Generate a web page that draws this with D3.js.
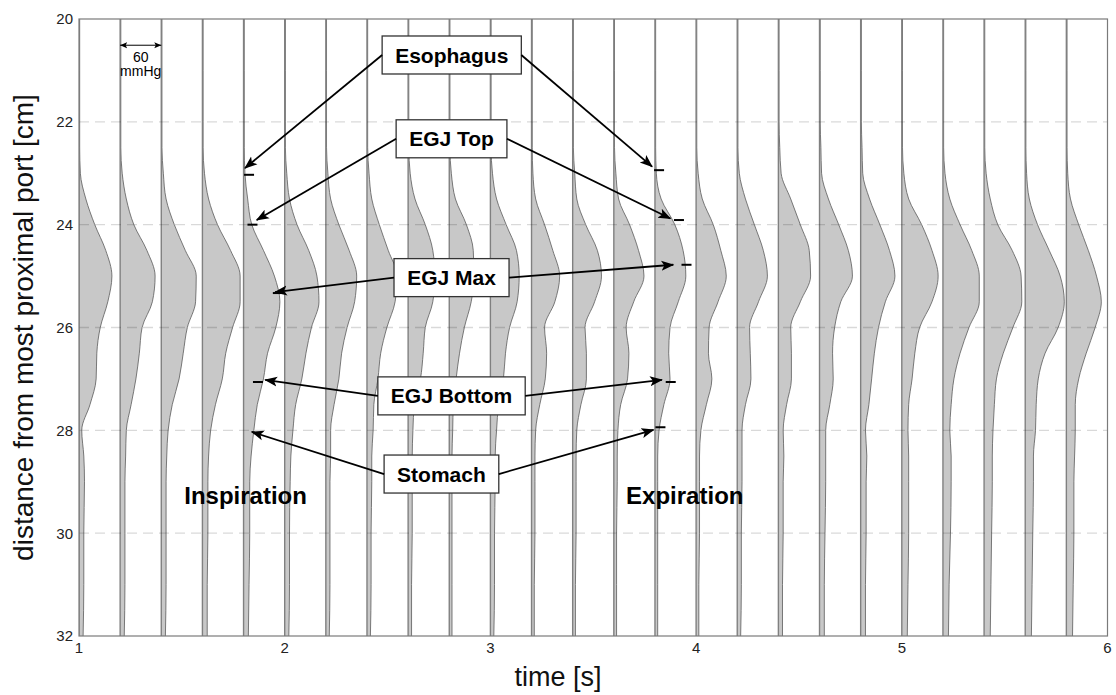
<!DOCTYPE html>
<html>
<head>
<meta charset="utf-8">
<script src="https://cdn.jsdelivr.net/npm/d3@7"></script>
<style>
  body { margin: 0; background: #fff; }
  text { font-family: Arial, "Liberation Sans", Helvetica, sans-serif; }
</style>
</head>
<body>
<svg id="chart" width="1116" height="695"></svg>
<script>
// depth grid of every pressure profile [cm]
const depths = [20, 21, 22, 22.5, 23, 23.5, 24, 24.5, 25, 25.5, 26, 26.5, 27, 27.5, 28, 28.5, 29, 30, 31, 32]

// time of each profile [s]
const times = [1.0, 1.2, 1.4, 1.6, 1.8, 2.0, 2.2, 2.4, 2.6, 2.8, 3.0, 3.2, 3.4,
               3.6, 3.8, 4.0, 4.2, 4.4, 4.6, 4.8, 5.0, 5.2, 5.4, 5.6, 5.8]

// pressure [mmHg] at each depth, one row per time
const pressures = [
    [1, 1, 1, 1, 2, 10, 23, 39, 48, 42, 31, 26, 25, 16, 4, 7, 8, 7, 7, 6],
    [1, 1, 1, 1, 3, 9, 20, 39, 51, 47, 32, 28, 23, 16, 9, 8, 7, 7, 7, 6],
    [1, 1, 1, 1, 3, 7, 19, 35, 51, 50, 38, 32, 26, 16, 10, 8, 7, 7, 7, 6],
    [1, 1, 1, 1, 3, 9, 22, 41, 55, 55, 44, 34, 29, 19, 12, 9, 8, 8, 7, 7],
    [1, 1, 1, 1, 2, 6, 12, 29, 45, 53, 47, 35, 29, 20, 15, 11, 9, 9, 8, 7],
    [1, 1, 1, 1, 3, 7, 18, 35, 47, 50, 39, 31, 25, 16, 12, 9, 8, 7, 7, 6],
    [1, 1, 1, 1, 3, 7, 19, 34, 45, 42, 31, 23, 19, 12, 7, 7, 6, 6, 6, 5],
    [1, 1, 1, 1, 3, 7, 18, 31, 44, 41, 29, 20, 16, 10, 9, 7, 7, 6, 6, 5],
    [1, 1, 1, 1, 3, 10, 25, 36, 39, 36, 25, 22, 18, 9, 7, 6, 6, 6, 5, 5],
    [1, 1, 1, 1, 3, 9, 25, 35, 36, 32, 22, 15, 10, 6, 5, 4, 4, 4, 4, 4],
    [1, 1, 1, 1, 3, 9, 23, 38, 42, 39, 28, 22, 19, 12, 9, 7, 7, 6, 6, 5],
    [1, 1, 1, 1, 2, 6, 19, 31, 41, 34, 19, 22, 20, 12, 6, 5, 5, 5, 4, 4],
    [1, 1, 1, 1, 3, 6, 19, 36, 42, 32, 18, 20, 20, 12, 6, 5, 5, 5, 4, 4],
    [1, 1, 1, 1, 3, 7, 23, 36, 44, 29, 18, 22, 20, 10, 6, 5, 5, 4, 4, 4],
    [1, 1, 1, 1, 2, 9, 29, 41, 45, 34, 22, 20, 22, 13, 6, 4, 4, 4, 4, 4],
    [1, 1, 1, 1, 3, 9, 25, 36, 44, 32, 19, 18, 23, 15, 7, 5, 5, 5, 4, 4],
    [1, 1, 1, 1, 3, 12, 25, 38, 44, 31, 18, 19, 20, 12, 7, 7, 7, 6, 6, 5],
    [1, 1, 1, 2, 4, 18, 32, 45, 47, 32, 18, 19, 19, 12, 7, 8, 7, 7, 6, 6],
    [1, 1, 1, 2, 3, 13, 28, 42, 48, 31, 22, 19, 20, 15, 9, 9, 9, 8, 7, 7],
    [1, 1, 1, 2, 3, 13, 28, 42, 50, 36, 26, 20, 16, 12, 7, 9, 8, 8, 7, 7],
    [1, 1, 1, 1, 3, 10, 29, 44, 53, 44, 26, 19, 15, 10, 9, 10, 10, 10, 9, 8],
    [1, 1, 1, 1, 3, 10, 25, 42, 53, 53, 38, 25, 16, 12, 10, 12, 12, 11, 9, 8],
    [1, 1, 1, 1, 3, 9, 20, 41, 54, 55, 42, 28, 18, 15, 13, 12, 12, 11, 10, 9],
    [1, 1, 1, 1, 2, 6, 18, 35, 51, 57, 48, 29, 19, 16, 15, 12, 12, 11, 10, 9],
    [1, 1, 1, 1, 2, 6, 18, 32, 44, 51, 42, 29, 18, 13, 13, 12, 11, 11, 10, 9],
]

const xTicks = [1, 2, 3, 4, 5, 6]
const yTicks = [20, 22, 24, 26, 28, 30, 32]
const gridDepths = [22, 24, 26, 28, 30]

// scale bar: 60 mmHg is drawn as 0.2 s wide
const barMmHg = 60
const barDt = 0.2
const barStart = 1.2
const barDepth = 20.51

// annotation boxes
const labels = ["Esophagus", "EGJ Top", "EGJ Max", "EGJ Bottom", "Stomach"]
const labelTimes = [2.812, 2.811, 2.811, 2.811, 2.762]
const labelDepths = [20.70, 22.33, 25.03, 27.33, 28.85]
// arrow tips [time, depth]
const leftTips = [[1.807, 22.90], [1.864, 23.91], [1.953, 25.31], [1.905, 27.02], [1.840, 28.03]]
const rightTips = [[3.786, 22.87], [3.875, 23.88], [3.889, 24.78], [3.834, 27.02], [3.793, 27.99]]
// picked points [depth, mmHg] on the 1.8 s and 3.8 s profiles
const markTimes = [1.8, 3.8]
const leftMarks = [[23.03, 8], [24.0, 13], [25.33, 50], [27.06, 21]]
const rightMarks = [[22.94, 6], [23.91, 35], [24.78, 46], [27.06, 23], [27.94, 8]]

const phases = ["Inspiration", "Expiration"]
const phaseTimes = [1.81, 3.945]
const phaseDepth = 29.43

const W = 1116, H = 695
const margin = {top: 19, right: 8.5, bottom: 59, left: 79}

const svg = d3.select("#chart")

const x = d3.scaleLinear().domain([1, 6]).range([margin.left, W - margin.right])
const y = d3.scaleLinear().domain([20, 32]).range([margin.top, H - margin.bottom])
// position of a pressure value drawn on the profile at time t
const px = (t, p) => x(t + p / barMmHg * barDt)

svg.append("defs").append("clipPath")
    .attr("id", "plot")
    .append("rect")
        .attr("x", x(1))
        .attr("y", y(20))
        .attr("width", x(6) - x(1))
        .attr("height", y(32) - y(20))

svg.select("defs").append("marker")
    .attr("id", "head")
    .attr("markerUnits", "userSpaceOnUse")
    .attr("viewBox", "0 -6 14 12")
    .attr("markerWidth", 14)
    .attr("markerHeight", 12)
    .attr("refX", 12)
    .attr("refY", 0)
    .attr("orient", "auto-start-reverse")
    .append("path")
        .attr("d", "M0,-5 L13,0 L0,5 L3,0 Z")
        .attr("fill", "#000")

svg.select("defs").append("marker")
    .attr("id", "smallhead")
    .attr("markerUnits", "userSpaceOnUse")
    .attr("viewBox", "0 -4 8 8")
    .attr("markerWidth", 8)
    .attr("markerHeight", 8)
    .attr("refX", 7)
    .attr("refY", 0)
    .attr("orient", "auto-start-reverse")
    .append("path")
        .attr("d", "M0,-3 L7,0 L0,3 L1.5,0 Z")
        .attr("fill", "#000")

let traces = times.map((t, i) => depths.map((depth, j) => ({t, depth, p: pressures[i][j]})))

let area = d3.area()
    .curve(d3.curveMonotoneY)
    .y(d => y(d.depth))
    .x0(d => x(d.t))
    .x1(d => px(d.t, d.p))
let profile = d3.line()
    .curve(d3.curveMonotoneY)
    .y(d => y(d.depth))
    .x(d => px(d.t, d.p))

let plot = svg.append("g").attr("clip-path", "url(#plot)")

let tr = plot.selectAll("g.trace")
    .data(traces)
    .join("g")
        .classed("trace", true)
tr.append("path")
    .attr("d", area)
    .attr("fill", "#c8c8c8")
tr.append("path")
    .attr("d", profile)
    .attr("fill", "none")
    .attr("stroke", "#5a5a5a")
    .attr("stroke-width", 0.8)
tr.append("line")
    .attr("x1", d => x(d[0].t))
    .attr("x2", d => x(d[0].t))
    .attr("y1", y(20))
    .attr("y2", y(32))
    .attr("stroke", "#808080")
    .attr("stroke-width", 1.4)

// dashed grid on top of the traces
plot.append("g")
    .selectAll("line")
    .data(gridDepths)
    .join("line")
        .attr("x1", x(1))
        .attr("x2", x(6))
        .attr("y1", d => y(d))
        .attr("y2", d => y(d))
        .attr("stroke", "#000")
        .attr("stroke-opacity", 0.15)
        .attr("stroke-width", 1.3)
        .attr("stroke-dasharray", "10,6")

// axes box
svg.append("rect")
    .attr("x", x(1))
    .attr("y", y(20))
    .attr("width", x(6) - x(1))
    .attr("height", y(32) - y(20))
    .attr("fill", "none")
    .attr("stroke", "#7a7a7a")
    .attr("stroke-width", 1.2)

svg.append("g")
    .selectAll("text")
    .data(yTicks)
    .join("text")
        .attr("x", x(1) - 6)
        .attr("y", d => y(d))
        .attr("dy", "0.36em")
        .attr("text-anchor", "end")
        .attr("font-size", 15)
        .attr("fill", "#222")
        .text(d => d)

svg.append("g")
    .selectAll("text")
    .data(xTicks)
    .join("text")
        .attr("x", d => x(d))
        .attr("y", y(32) + 17)
        .attr("text-anchor", "middle")
        .attr("font-size", 15)
        .attr("fill", "#222")
        .text(d => d)

svg.append("text")
    .attr("transform", `translate(33,${(y(20) + y(32)) / 2}) rotate(-90)`)
    .attr("text-anchor", "middle")
    .attr("font-size", 28)
    .attr("fill", "#111")
    .text("distance from most proximal port [cm]")

svg.append("text")
    .attr("x", W / 2)
    .attr("y", H - 9)
    .attr("text-anchor", "middle")
    .attr("font-size", 27)
    .attr("fill", "#111")
    .text("time [s]")

// scale bar
svg.append("line")
    .attr("x1", x(barStart))
    .attr("x2", x(barStart + barDt))
    .attr("y1", y(barDepth))
    .attr("y2", y(barDepth))
    .attr("stroke", "#000")
    .attr("stroke-width", 1)
    .attr("marker-start", "url(#smallhead)")
    .attr("marker-end", "url(#smallhead)")
let barText = svg.append("text")
    .attr("text-anchor", "middle")
    .attr("font-size", 14)
barText.append("tspan")
    .attr("x", x(barStart + barDt / 2))
    .attr("y", y(barDepth) + 17)
    .text(barMmHg)
barText.append("tspan")
    .attr("x", x(barStart + barDt / 2))
    .attr("y", y(barDepth) + 31)
    .text("mmHg")

// picked points
let marks = [leftMarks.map(m => [markTimes[0], ...m]), rightMarks.map(m => [markTimes[1], ...m])].flat()
svg.append("g")
    .selectAll("line")
    .data(marks)
    .join("line")
        .attr("x1", d => px(d[0], d[2]) - 5)
        .attr("x2", d => px(d[0], d[2]) + 5)
        .attr("y1", d => y(d[1]))
        .attr("y2", d => y(d[1]))
        .attr("stroke", "#000")
        .attr("stroke-width", 2)

// label boxes and arrows
let boxes = svg.append("g")
    .selectAll("g")
    .data(labels)
    .join("g")
boxes.each(function(label, i) {
    let g = d3.select(this)
    let cx = x(labelTimes[i]), cy = y(labelDepths[i])
    let txt = g.append("text")
        .attr("x", cx)
        .attr("y", cy)
        .attr("dy", "0.36em")
        .attr("text-anchor", "middle")
        .attr("font-size", 21)
        .attr("font-weight", "bold")
        .text(label)
    let w = txt.node().getBBox().width + 26
    let h = 38
    g.insert("rect", "text")
        .attr("x", cx - w / 2)
        .attr("y", cy - h / 2)
        .attr("width", w)
        .attr("height", h)
        .attr("fill", "#fff")
        .attr("stroke", "#333")
        .attr("stroke-width", 1.3)
    let ends = [[cx - w / 2, leftTips[i]], [cx + w / 2, rightTips[i]]]
    for (let [sx, tip] of ends) {
        g.append("line")
            .attr("x1", sx)
            .attr("y1", cy)
            .attr("x2", x(tip[0]))
            .attr("y2", y(tip[1]))
            .attr("stroke", "#000")
            .attr("stroke-width", 1.8)
            .attr("marker-end", "url(#head)")
    }
})

svg.append("g")
    .selectAll("text")
    .data(phases)
    .join("text")
        .attr("x", (d, i) => x(phaseTimes[i]))
        .attr("y", y(phaseDepth))
        .attr("text-anchor", "middle")
        .attr("font-size", 24)
        .attr("font-weight", "bold")
        .text(d => d)
</script>
</body>
</html>
